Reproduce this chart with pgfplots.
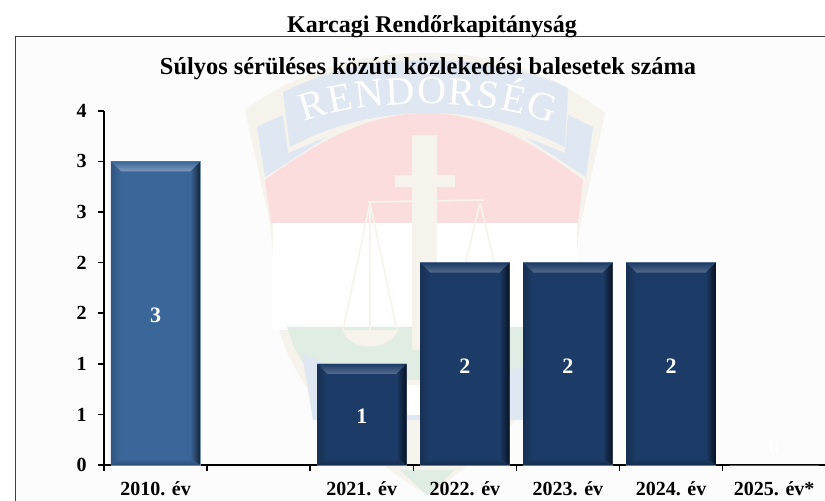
\documentclass[border=0pt]{standalone}
\usepackage{fontspec}
\setmainfont{Liberation Serif}
\usepackage{pgfplots}
\pgfplotsset{compat=1.18}
\usetikzlibrary{decorations.text}
\definecolor{barA}{HTML}{3B6699}
\definecolor{barB}{HTML}{1C3B66}
\definecolor{wmcream}{HTML}{F5F3EC}
\definecolor{wmred}{HTML}{FBDDDD}
\definecolor{wmblue}{HTML}{DFE7F2}
\definecolor{wmgreen}{HTML}{DFEDE3}
\newcommand\bfs[1]{\fontsize{#1}{#1}\selectfont\bfseries}
% bevel of a bar: centre, height, light colour, base colour, dark colour
\newcommand\bevel[5]{%
  \pgfmathsetmacro\xl{#1-0.434}\pgfmathsetmacro\xr{#1+0.434}%
  \pgfmathsetmacro\il{#1-0.337}\pgfmathsetmacro\ir{#1+0.337}%
  \pgfmathsetmacro\it{#2-0.099}%
  \addplot[draw=none,top color=#4,bottom color=#3] coordinates {(\xl,#2) (\xr,#2) (\ir,\it) (\il,\it)} --cycle;
  \addplot[draw=none,left color=#4,right color=#5] coordinates {(\xr,#2) (\xr,0) (\ir,0.06) (\ir,\it)} --cycle;
  \addplot[draw=none,left color=#5!25!#4,right color=#4] coordinates {(\xl,#2) (\xl,0) (\il,0.06) (\il,\it)} --cycle;
  \addplot[draw=none,top color=#4,bottom color=#5!35!#4] coordinates {(\xl,0) (\xr,0) (\ir,0.06) (\il,0.06)} --cycle;
}
\begin{document}
\begin{tikzpicture}
\useasboundingbox (0,0) rectangle (618.75pt,375pt);
\clip (0,0) rectangle (618.75pt,375pt);
\begin{scope}[shift={(0,375pt)},x=0.75pt,y=-0.75pt]
\fill[white] (0,0) rectangle (825,500);
% frame
\filldraw[fill=white!99!black,draw=black!75,line width=0.75pt] (15,36.5) rectangle (835,510);
% watermark
\fill[wmcream] (245,110) .. controls (300,70) and (360,53) .. (427,53) .. controls (490,53) and (550,70) .. (605,113)
  -- (580,227) -- (567,330) .. controls (550,400) and (480,460) .. (427,495) .. controls (370,460) and (300,400) .. (280,333) -- (270,223) -- cycle;
\fill[white] (273,223) rectangle (577,330);
\fill[wmred] (265,180) .. controls (320,140) and (370,113) .. (427,113) .. controls (480,113) and (530,140) .. (583,180) -- (578,223) -- (271,223) -- cycle;
\fill[wmgreen] (287,327) -- (562,327) -- (558,348) .. controls (550,365) and (540,375) .. (530,380) -- (320,380) .. controls (300,365) and (295,350) .. (287,327) -- cycle;
\fill[wmblue] (302,353) .. controls (340,370) and (370,385) .. (427,392) .. controls (470,385) and (510,370) .. (555,355) -- (540,420) -- (313,420) -- cycle;
\fill[white] (400,385) rectangle (500,415);
\fill[wmgreen] (400,470) -- (455,470) -- (427,495) -- cycle;
\fill[wmblue] (257,127) -- (283,115) -- (288,153) -- (327,137) -- (265,177) -- cycle;
\fill[wmblue] (593,127) -- (568,115) -- (565,153) -- (525,137) -- (586,177) -- cycle;
\fill[wmblue] (283,92) .. controls (340,65) and (380,60) .. (427,60) .. controls (480,60) and (530,70) .. (568,88)
  -- (565,147) .. controls (520,125) and (480,113) .. (427,113) .. controls (380,113) and (330,125) .. (290,147) -- cycle;
\fill[wmcream] (412,135) rectangle (437,350);
\fill[wmcream] (395,175) rectangle (455,187);
\draw[wmcream,line width=1.4pt] (368,202) -- (483,200);
\draw[wmcream,line width=1.2pt] (370,203) -- (343,330) (370,203) -- (397,330) (370,203) -- (370,330);
\draw[wmcream,line width=1.2pt] (480,203) -- (465,265) (480,203) -- (495,265);
\fill[wmcream] (342,330) .. controls (350,352) and (390,352) .. (398,330) -- cycle;
\path[postaction={decorate,decoration={text along path,text align=fit to path,
   text={|\fontsize{30}{30}\selectfont\color{white}|RENDŐRSÉG}}}]
   (304,122) .. controls (360,100) and (480,95) .. (552,124);
% titles
\node[font=\bfs{18}] at (432,27) {Karcagi Rendőrkapitányság};
\node[font=\bfs{18.3}] at (428,68.5) {Súlyos sérüléses közúti közlekedési balesetek száma};
\end{scope}
\begin{axis}[
  at={(78pt,26.25pt)},anchor=south west,
  scale only axis,width=541.3pt,height=265.6pt,
  xmin=-0.5,xmax=6.5,ymin=0,ymax=3.5,
  axis x line*=bottom,axis y line*=left,
  axis line style={black,line width=1.2pt,-},
  tick align=outside,
  ytick={0,0.5,1,1.5,2,2.5,3,3.5},
  yticklabels={0,1,1,2,2,3,3,4},
  xtick={0,1,2,3,4,5,6},
  xticklabels={2010. év,,2021. év,2022. év,2023. év,2024. év,2025. év*},
  minor xtick={-0.5,0.5,1.5,2.5,3.5,4.5,5.5},
  major x tick style={draw=none},
  major tick length=4.5pt,minor tick length=4.5pt,
  tick style={black,line width=1.2pt},
  /pgf/number format/assume math mode=true,
  ticklabel style={font=\bfs{15},text=black},
  xticklabel style={yshift=-4.5pt},
  yticklabel style={xshift=-5pt},
  clip=false,
]
\addplot[ybar,bar width=67pt,fill=barA,draw=barA!70!white,line width=0.4pt] coordinates {(0,3)};
\addplot[ybar,bar width=67pt,fill=barB,draw=barB!60!white,line width=0.4pt] coordinates {(2,1) (3,2) (4,2) (5,2) (6,0)};
\bevel{0}{3}{barA!65!white}{barA}{barA!35!black}
\bevel{2}{1}{barB!75!white}{barB}{barB!30!black}
\bevel{3}{2}{barB!75!white}{barB}{barB!30!black}
\bevel{4}{2}{barB!75!white}{barB}{barB!30!black}
\bevel{5}{2}{barB!75!white}{barB}{barB!30!black}
\addplot[only marks,mark=none,point meta=explicit,
  nodes near coords,
  nodes near coords style={anchor=center,text=white,font=\bfs{16.5},yshift=-1.5pt,/pgf/number format/precision=0}]
  coordinates {(0,1.5)[3] (2,0.5)[1] (3,1)[2] (4,1)[2] (5,1)[2] (6,0.2)[0]};
\end{axis}
\end{tikzpicture}
\end{document}
